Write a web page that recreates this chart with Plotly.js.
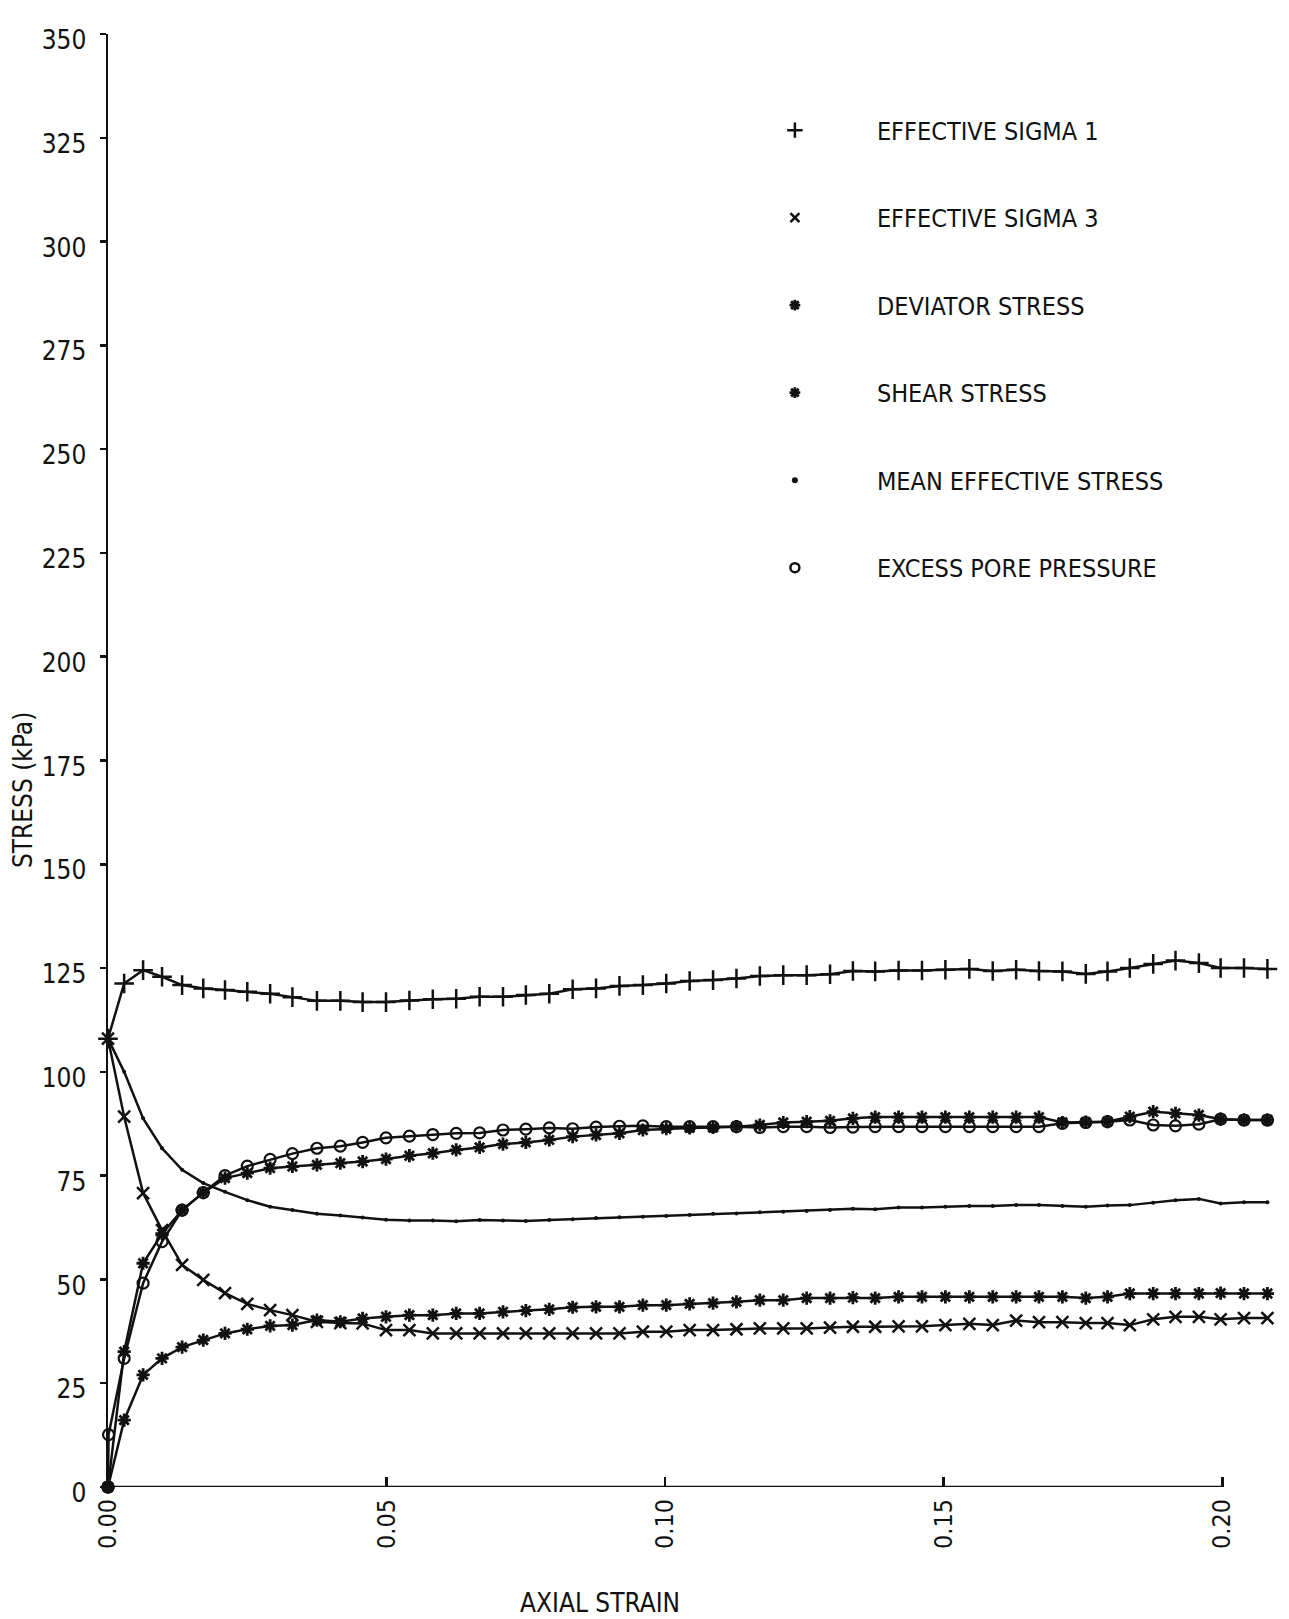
<!DOCTYPE html>
<html>
<head>
<meta charset="utf-8">
<script src="https://cdn.plot.ly/plotly-3.0.1.min.js"></script>
<style>
  html, body { margin: 0; padding: 0; background: #ffffff; }
  #chart { width: 1289px; height: 1619px; }
</style>
</head>
<body>
<div id="chart"></div>
<script>
// ---- data ----
const strain = [0, 0.0029, 0.0063, 0.0097, 0.0133, 0.0171, 0.0210, 0.0250, 0.0291, 0.0331,
  0.0375, 0.0417, 0.0457, 0.0499, 0.0541, 0.0583, 0.0625, 0.0667, 0.0709, 0.0750,
  0.0792, 0.0834, 0.0876, 0.0918, 0.0960, 0.1002, 0.1044, 0.1086, 0.1128, 0.1170,
  0.1212, 0.1254, 0.1296, 0.1337, 0.1377, 0.1419, 0.1461, 0.1503, 0.1546, 0.1588,
  0.1630, 0.1671, 0.1713, 0.1755, 0.1794, 0.1834, 0.1876, 0.1916, 0.1958, 0.1997,
  0.2039, 0.2081];

const effectiveSigma1 = [108, 121.3, 124.5, 122.9, 120.9, 120.1, 119.7, 119.3, 118.8, 118.0,
  117.1, 117.1, 116.8, 116.8, 117.2, 117.5, 117.6, 118.1, 118.1, 118.5,
  118.8, 119.9, 120.1, 120.7, 120.9, 121.3, 121.9, 122.1, 122.5, 123.1,
  123.3, 123.3, 123.5, 124.3, 124.2, 124.4, 124.4, 124.6, 124.8, 124.3,
  124.6, 124.3, 124.2, 123.6, 124.2, 125.0, 126.0, 126.8, 126.2, 125.0,
  125.0, 124.8];

const effectiveSigma3 = [108, 89.2, 70.8, 61.9, 53.5, 49.9, 46.7, 44.1, 42.6, 41.4,
  39.8, 39.5, 39.4, 37.8, 37.8, 37.0, 37.0, 37.0, 37.0, 37.0,
  37.0, 37.0, 37.0, 37.0, 37.4, 37.4, 37.8, 37.8, 38.0, 38.2,
  38.2, 38.2, 38.4, 38.6, 38.6, 38.7, 38.7, 39.0, 39.3, 39.0,
  40.1, 39.7, 39.7, 39.5, 39.5, 39.0, 40.4, 41.0, 41.0, 40.4,
  40.7, 40.7];

const deviatorStress = [0, 32.6, 53.9, 61.0, 66.7, 70.9, 74.4, 75.6, 76.8, 77.2,
  77.6, 78.0, 78.4, 79.0, 79.8, 80.4, 81.2, 81.8, 82.6, 83.0,
  83.6, 84.4, 84.8, 85.2, 86.0, 86.3, 86.5, 86.6, 86.8, 87.2,
  87.8, 88.0, 88.2, 88.8, 89.1, 89.1, 89.1, 89.1, 89.1, 89.1,
  89.1, 89.1, 87.8, 87.9, 88.0, 89.2, 90.4, 90.0, 89.6, 88.6,
  88.4, 88.4];

const shearStress = [0, 16.1, 27.0, 31.0, 33.7, 35.4, 37.0, 38.0, 38.8, 39.0,
  40.2, 39.8, 40.6, 41.0, 41.4, 41.4, 41.8, 41.8, 42.2, 42.5,
  42.8, 43.3, 43.4, 43.4, 43.8, 43.8, 44.1, 44.3, 44.6, 45.0,
  45.0, 45.5, 45.5, 45.6, 45.5, 45.8, 45.8, 45.8, 45.8, 45.8,
  45.8, 45.8, 45.8, 45.5, 45.8, 46.6, 46.6, 46.6, 46.6, 46.7,
  46.6, 46.6];

const meanEffectiveStress = [108, 100.0, 88.8, 81.6, 76.4, 73.2, 71.1, 69.1, 67.5, 66.7,
  65.8, 65.4, 64.9, 64.4, 64.2, 64.2, 64.0, 64.3, 64.2, 64.1,
  64.3, 64.5, 64.8, 65.0, 65.1, 65.3, 65.5, 65.8, 65.9, 66.2,
  66.3, 66.5, 66.7, 67.0, 66.9, 67.3, 67.3, 67.5, 67.7, 67.7,
  67.9, 67.9, 67.7, 67.5, 67.8, 67.9, 68.5, 69.1, 69.4, 68.3,
  68.6, 68.6];

const excessPorePressure = [0, 31.0, 49.1, 59.1, 66.7, 70.9, 75.0, 77.3, 78.9, 80.3,
  81.6, 82.1, 83.0, 84.1, 84.5, 84.9, 85.2, 85.3, 86.0, 86.2,
  86.5, 86.3, 86.7, 86.9, 87.0, 86.8, 86.8, 86.8, 86.8, 86.6,
  86.8, 86.8, 86.6, 86.7, 86.8, 86.8, 86.8, 86.8, 86.8, 86.8,
  86.8, 86.8, 87.6, 87.8, 88.0, 88.4, 87.2, 87.0, 87.4, 88.6,
  88.4, 88.4];
// extra early pore-pressure reading just after the start
const poreEarlyStrain = 0.0001;
const poreEarlyValue = 12.6;

const seriesNames = ['EFFECTIVE SIGMA 1', 'EFFECTIVE SIGMA 3', 'DEVIATOR STRESS',
  'SHEAR STRESS', 'MEAN EFFECTIVE STRESS', 'EXCESS PORE PRESSURE'];
const xTickVals = [0, 0.05, 0.10, 0.15, 0.20];
const xTickText = ['0.00', '0.05', '0.10', '0.15', '0.20'];
const yTickVals = [0, 25, 50, 75, 100, 125, 150, 175, 200, 225, 250, 275, 300, 325, 350];
const xTitle = 'AXIAL STRAIN';
const yTitle = 'STRESS (kPa)';

// ---- styling ----
const FONT = "'Liberation Sans Narrow', 'DejaVu Sans Condensed', 'Arial Narrow', sans-serif";
const INK = '#111111';
const LW = 2.5;

const markerStyles = [
  { symbol: 'cross-thin-open', size: 14, line: { width: 2.5, color: INK }, color: INK },
  { symbol: 'x-thin-open', size: 12, line: { width: 2.5, color: INK }, color: INK },
  { symbol: 'asterisk-open', size: 11, line: { width: 2.8, color: INK }, color: INK },
  { symbol: 'asterisk-open', size: 11, line: { width: 2.8, color: INK }, color: INK },
  { symbol: 'circle', size: 4, line: { width: 0 }, color: INK },
  { symbol: 'circle-open', size: 11, line: { width: 2.2, color: INK }, color: INK }
];
const legendMarkerStyles = [
  { symbol: 'cross-thin-open', size: 11, line: { width: 2.5, color: INK }, color: INK },
  { symbol: 'x-thin-open', size: 9, line: { width: 2.5, color: INK }, color: INK },
  { symbol: 'asterisk-open', size: 9, line: { width: 2.8, color: INK }, color: INK },
  { symbol: 'asterisk-open', size: 9, line: { width: 2.8, color: INK }, color: INK },
  { symbol: 'circle', size: 6, line: { width: 0 }, color: INK },
  { symbol: 'circle-open', size: 9, line: { width: 2.5, color: INK }, color: INK }
];

const seriesY = [effectiveSigma1, effectiveSigma3, deviatorStress, shearStress,
  meanEffectiveStress, excessPorePressure];
const seriesX = seriesY.map(() => strain.slice());
// pore pressure gets its extra early reading
const poreX = [strain[0], poreEarlyStrain].concat(strain.slice(1));
const poreY = [excessPorePressure[0], poreEarlyValue].concat(excessPorePressure.slice(1));
seriesX[5] = poreX;
seriesY[5] = poreY;

const traces = [];
seriesY.forEach((ys, i) => {
  traces.push({
    type: 'scatter', mode: 'lines+markers',
    x: seriesX[i], y: ys, name: seriesNames[i],
    line: { color: INK, width: LW, shape: 'linear' },
    marker: markerStyles[i],
    showlegend: false, cliponaxis: false, hoverinfo: 'x+y+name'
  });
});
seriesNames.forEach((n, i) => {
  traces.push({
    type: 'scatter', mode: 'markers', x: [null], y: [null], name: n,
    marker: legendMarkerStyles[i], showlegend: true, legendgroup: 'g' + i
  });
});

const layout = {
  width: 1289, height: 1619,
  margin: { l: 108, r: 11, t: 34, b: 132 },
  paper_bgcolor: '#ffffff', plot_bgcolor: '#ffffff',
  font: { family: FONT, color: INK, size: 25 },
  showlegend: true,
  legend: {
    x: 0.517, y: 0.9495, xanchor: 'left', yanchor: 'top',
    traceorder: 'grouped', tracegroupgap: 52, itemwidth: 154,
    font: { family: FONT, size: 25, color: INK },
    bgcolor: 'rgba(0,0,0,0)', borderwidth: 0, itemclick: false
  },
  xaxis: {
    range: [0, 0.21], showgrid: false, zeroline: false, showline: false,
    tickmode: 'array', tickvals: xTickVals, ticktext: xTickText,
    ticks: 'inside', ticklen: 10, tickwidth: 2.5, tickcolor: INK,
    tickangle: -90, ticklabelstandoff: 6,
    tickfont: { family: FONT, size: 25, color: INK }
  },
  yaxis: {
    range: [0, 350], showgrid: false, zeroline: false,
    showline: true, linewidth: LW, linecolor: INK,
    tickmode: 'array', tickvals: yTickVals,
    ticks: 'outside', ticklen: 6, tickwidth: 2.5, tickcolor: INK,
    ticklabelstandoff: 8, ticklabelshift: 6,
    tickfont: { family: FONT, size: 26, color: INK }
  },
  shapes: [
    { type: 'line', xref: 'x', yref: 'y', x0: xTickVals[0], x1: xTickVals[xTickVals.length - 1],
      y0: 0, y1: 0, line: { color: INK, width: LW } }
  ],
  annotations: [
    { text: xTitle, xref: 'paper', yref: 'paper', x: 0.4205, y: -0.0798,
      xanchor: 'center', yanchor: 'middle', showarrow: false,
      font: { family: FONT, size: 26, color: INK } },
    { text: yTitle, xref: 'paper', yref: 'paper', x: -0.0726, y: 0.4797,
      xanchor: 'center', yanchor: 'middle', showarrow: false, textangle: -90,
      font: { family: FONT, size: 26, color: INK } }
  ]
};

Plotly.newPlot('chart', traces, layout, { displayModeBar: false, staticPlot: true });
</script>
</body>
</html>
